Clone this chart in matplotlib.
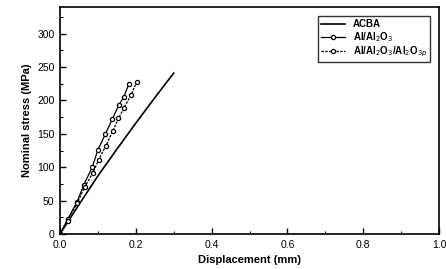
import numpy as np
import matplotlib
matplotlib.use('Agg')
import matplotlib.pyplot as plt
from matplotlib.ticker import MultipleLocator

plt.rcParams['font.family'] = ['Liberation Sans', 'DejaVu Sans']

# ACBA (smooth curve)
acba_x = [0.0, 0.05, 0.10, 0.15, 0.20, 0.25, 0.30]
acba_y = [0, 44, 87, 127, 166, 204, 241]

# Al/Al2O3
al_x = [0.0, 0.02, 0.045, 0.063, 0.085, 0.100, 0.120, 0.138, 0.155, 0.168, 0.182]
al_y = [0, 22, 48, 74, 100, 126, 150, 172, 193, 205, 225]

# Al/Al2O3/Al2O3p
alp_x = [0.0, 0.02, 0.045, 0.065, 0.086, 0.102, 0.121, 0.140, 0.154, 0.169, 0.187, 0.202]
alp_y = [0, 20, 46, 70, 91, 111, 132, 155, 173, 189, 208, 227]

fig = plt.figure(figsize=(4.46, 2.69), dpi=100)
ax = fig.add_axes([60/446, 1-234/269, 379/446, 227/269])

ax.plot(acba_x, acba_y, color='black', lw=1.2, label='ACBA')
ax.plot(al_x, al_y, color='black', lw=0.9, marker='o', ms=3,
        mfc='white', mew=0.9, label=r'Al/Al$_2$O$_3$')
ax.plot(alp_x, alp_y, color='black', lw=0.9, ls=(0, (2, 1)), marker='o', ms=3,
        mfc='white', mew=0.9, label=r'Al/Al$_2$O$_3$/Al$_2$O$_{3p}$')

ax.set_xlim(0, 1.0)
ax.set_ylim(0, 340)
ax.xaxis.set_major_locator(MultipleLocator(0.2))
ax.xaxis.set_minor_locator(MultipleLocator(0.1))
ax.yaxis.set_major_locator(MultipleLocator(50))
ax.yaxis.set_minor_locator(MultipleLocator(25))
ax.tick_params(which='both', direction='in', labelsize=7.5)
ax.tick_params(which='major', length=4, width=1, pad=4)
ax.tick_params(which='minor', length=2.5, width=0.8)
ax.set_xticks([0.0, 0.2, 0.4, 0.6, 0.8, 1.0])
ax.set_xticklabels(['0.0', '0.2', '0.4', '0.6', '0.8', '1.0'])
for s in ax.spines.values():
    s.set_linewidth(1.2)

ax.set_xlabel('Displacement (mm)', fontsize=8, fontweight='bold')
ax.set_ylabel('Nominal stress (MPa)', fontsize=8, fontweight='bold')

leg = ax.legend(loc='upper right', bbox_to_anchor=(0.99, 0.98), fontsize=7,
                frameon=True, fancybox=False, edgecolor='black',
                handlelength=2.5, borderpad=0.3, labelspacing=0.1)
leg.get_frame().set_linewidth(1.0)
for t in leg.get_texts():
    t.set_fontweight('bold')

fig.savefig('out.png', dpi=100)
